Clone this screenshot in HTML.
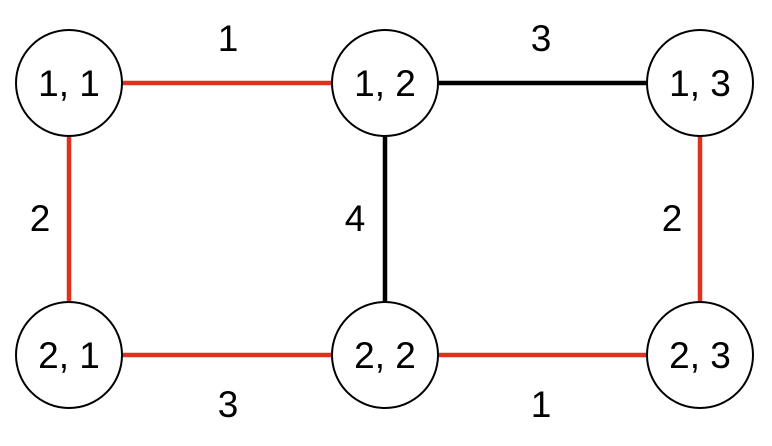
<!DOCTYPE html>
<html><head><meta charset="utf-8"><style>html,body{margin:0;padding:0;background:#fff}svg{display:block}</style></head>
<body>
<svg width="772" height="446" viewBox="0 0 772 446" xmlns="http://www.w3.org/2000/svg" font-family="Liberation Sans, DejaVu Sans, sans-serif">
<g stroke-width="4.5" fill="none">
<line x1="122" y1="83" x2="332" y2="83" stroke="#e0301e"/>
<line x1="438" y1="83" x2="647" y2="83" stroke="#000"/>
<line x1="69" y1="136" x2="69" y2="302" stroke="#e0301e"/>
<line x1="385" y1="136" x2="385" y2="302" stroke="#000"/>
<line x1="700" y1="136" x2="700" y2="302" stroke="#e0301e"/>
<line x1="122" y1="355" x2="332" y2="355" stroke="#e0301e"/>
<line x1="438" y1="355" x2="647" y2="355" stroke="#e0301e"/>
</g>
<g fill="#fff" stroke="#000" stroke-width="2">
<circle cx="69" cy="83" r="53"/><circle cx="385" cy="83" r="53"/><circle cx="700" cy="83" r="53"/>
<circle cx="69" cy="355" r="53"/><circle cx="385" cy="355" r="53"/><circle cx="700" cy="355" r="53"/>
</g>
<g font-size="37" text-anchor="middle" fill="#000">
<text x="69" y="96">1, 1</text><text x="385" y="96">1, 2</text><text x="700" y="96">1, 3</text>
<text x="69" y="368">2, 1</text><text x="385" y="368">2, 2</text><text x="700" y="368">2, 3</text>
<text x="228" y="51">1</text><text x="541" y="51">3</text>
<text x="40" y="231">2</text><text x="355" y="231">4</text><text x="672" y="231">2</text>
<text x="228" y="417">3</text><text x="541" y="417">1</text>
</g>
</svg>
</body></html>
